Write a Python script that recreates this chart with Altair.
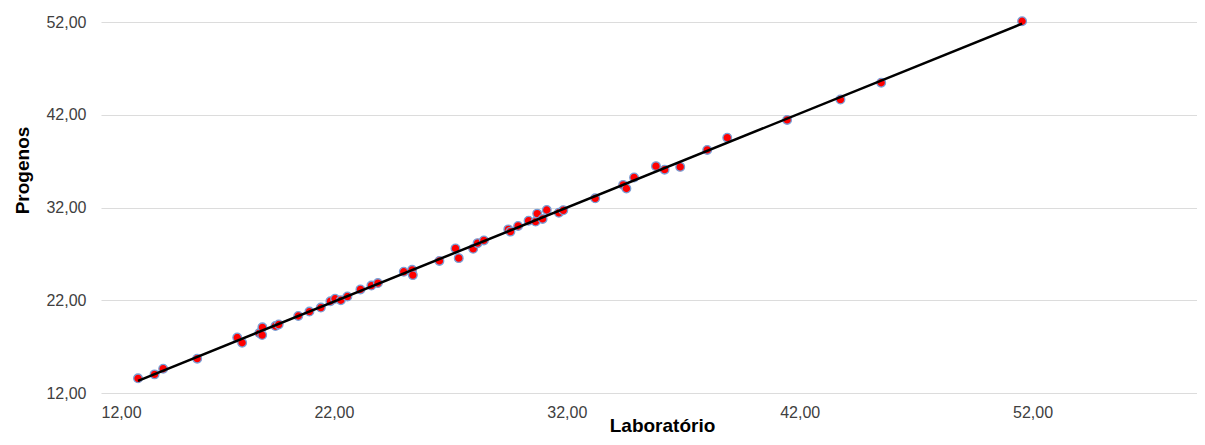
import altair as alt
import pandas as pd

laboratorio = [13.59, 14.30, 14.67, 16.13, 17.85, 18.06, 18.80, 18.93, 18.92, 19.49,
               19.63, 20.47, 20.95, 21.44, 21.85, 22.05, 22.30, 22.58, 23.14, 23.61,
               23.89, 25.00, 25.36, 25.39, 26.53, 27.22, 27.36, 27.98, 28.17, 28.44,
               29.49, 29.58, 29.91, 30.36, 30.66, 30.73, 30.96, 31.14, 31.66, 31.85,
               33.22, 34.42, 34.56, 34.89, 35.83, 36.20, 36.87, 38.03, 38.89, 41.46,
               43.75, 45.50, 51.55]
progenos = [13.58, 14.01, 14.62, 15.70, 17.98, 17.42, 18.46, 19.08, 18.25, 19.22,
            19.38, 20.30, 20.78, 21.21, 21.89, 22.16, 22.00, 22.40, 23.17, 23.58,
            23.85, 25.07, 25.28, 24.71, 26.24, 27.59, 26.54, 27.55, 28.16, 28.45,
            29.64, 29.40, 30.01, 30.58, 30.48, 31.34, 30.77, 31.73, 31.43, 31.70,
            32.99, 34.44, 34.05, 35.24, 36.46, 36.08, 36.38, 38.21, 39.53, 41.44,
            43.64, 45.45, 52.08]
tick_values = [12, 22, 32, 42, 52]

df = pd.DataFrame({"Laboratorio": laboratorio, "Progenos": progenos})

label_expr = "replace(format(datum.value, '.2f'), '.', ',')"

x_enc = alt.X(
    "Laboratorio:Q",
    scale=alt.Scale(domain=[12, 59.06], nice=False, zero=False),
    axis=alt.Axis(
        values=tick_values, labelExpr=label_expr, grid=False, title="Laboratório",
        labelPadding=11, titleY=38, titleBaseline="alphabetic", titleX=561,
    ),
)
y_enc = alt.Y(
    "Progenos:Q",
    scale=alt.Scale(domain=[12, 52], nice=False, zero=False),
    axis=alt.Axis(
        values=tick_values, labelExpr=label_expr, grid=True, title="Progenos",
        labelPadding=15, titleX=-69, titleY=148, titleBaseline="bottom",
    ),
)

points = alt.Chart(df).mark_circle(
    color="#ff0000", stroke="#7a9fd6", strokeWidth=1.3, size=75, opacity=1
).encode(x=x_enc, y=y_enc)

line = alt.Chart(df).transform_regression(
    "Laboratorio", "Progenos"
).mark_line(color="black", strokeWidth=2.5).encode(
    x="Laboratorio:Q", y="Progenos:Q"
)

chart = alt.layer(points, line).properties(
    width=1096, height=371,
    padding={"left": 93, "top": 14, "right": 0, "bottom": 44},
    autosize=alt.AutoSizeParams(type="none"),
).configure_view(stroke=None).configure_axis(
    domain=False, ticks=False, gridColor="#dcdcdc", gridWidth=1.2,
    labelFont="Liberation Sans", labelFontSize=16, labelColor="#404040",
    titleFont="Liberation Sans", titleFontSize=19, titleFontWeight="bold",
    titleColor="#000000",
)

chart.save("out.html", embed_options={"renderer": "svg", "actions": False})
